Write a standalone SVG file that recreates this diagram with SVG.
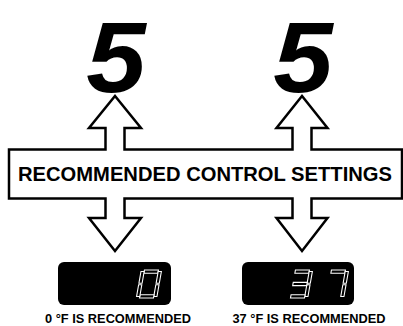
<svg xmlns="http://www.w3.org/2000/svg" width="403" height="326" viewBox="0 0 403 326">
<style>
.big{font-family:"Liberation Sans",Arial,sans-serif;font-weight:bold;font-style:italic;font-size:101px;fill:#000;text-anchor:middle}
.band{font-family:"Liberation Sans",Arial,sans-serif;font-weight:bold;font-size:19.5px;fill:#000}
.cap{font-family:"Liberation Sans",Arial,sans-serif;font-weight:bold;font-size:12.8px;fill:#000;text-anchor:middle}
.outline{fill:#fff;stroke:#000;stroke-width:2.5;stroke-linejoin:miter}
.screen{fill:#000}
.seg{fill:#000;stroke:#fff;stroke-width:1.1}
</style>
<defs>
<g id="sa"><rect x="2.5" y="-28" width="14" height="3.2"/></g>
<g id="sb"><rect x="16.5" y="-26.5" width="3.2" height="11.7"/></g>
<g id="sc"><rect x="16.5" y="-13.2" width="3.2" height="11.7"/></g>
<g id="sd"><rect x="2.5" y="-3.2" width="14" height="3.2"/></g>
<g id="se"><rect x="-0.7" y="-13.2" width="3.2" height="11.7"/></g>
<g id="sf"><rect x="-0.7" y="-26.5" width="3.2" height="11.7"/></g>
<g id="sg"><rect x="2.5" y="-15.6" width="14" height="3.2"/></g>
</defs>
<g id="connectors">
<path class="outline" d="M 9 149.5 H 105.5 V 128 H 89 L 115 96 L 141 128 H 124.5 V 149.5 H 292.5 V 128 H 276.5 L 302 96 L 327.5 128 H 311.5 V 149.5 H 402 V 198.5 H 311.5 V 218 H 327.5 L 302 251 L 276.5 218 H 292.5 V 198.5 H 124.5 V 218 H 141 L 115 251 L 89 218 H 105.5 V 198.5 H 9 Z"/>
</g>
<g id="banner">
<text class="band" x="18" y="181" textLength="374" lengthAdjust="spacingAndGlyphs">RECOMMENDED CONTROL SETTINGS</text>
</g>
<g id="setting-left">
<text class="big" transform="translate(116 91.5) scale(1.06 1)" x="0" y="0">5</text>
</g>
<g id="setting-right">
<text class="big" transform="translate(303 91.5) scale(1.06 1)" x="0" y="0">5</text>
</g>
<g id="display-left">
<rect class="screen" x="58" y="262" width="113" height="43" rx="6"/>
<g class="seg" transform="translate(137 298) skewX(-10)">
<use href="#sa"/><use href="#sb"/><use href="#sc"/><use href="#sd"/><use href="#se"/><use href="#sf"/>
</g>
<text class="cap" x="118" y="323">0 °F IS RECOMMENDED</text>
</g>
<g id="display-right">
<rect class="screen" x="242" y="262" width="112" height="43" rx="6"/>
<g class="seg" transform="translate(288 298) skewX(-10)">
<use href="#sa"/><use href="#sb"/><use href="#sc"/><use href="#sd"/><use href="#sg"/>
</g>
<g class="seg" transform="translate(324 298) skewX(-10)">
<use href="#sa"/><use href="#sb"/><use href="#sc"/>
</g>
<text class="cap" x="309" y="323">37 °F IS RECOMMENDED</text>
</g>
</svg>
